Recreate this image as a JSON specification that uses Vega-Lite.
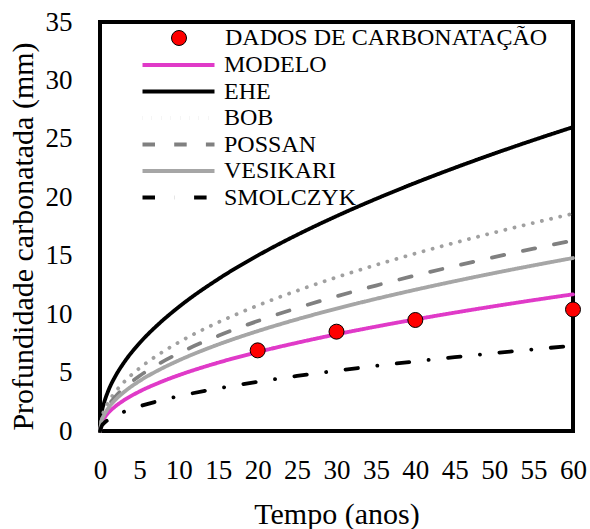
{
  "$schema": "https://vega.github.io/schema/vega-lite/v6.json",
  "width": 473,
  "height": 409,
  "autosize": {"type": "none"},
  "padding": {"left": 100, "top": 22, "right": 17, "bottom": 98},
  "background": "white",
  "config": {
    "font": "Liberation Serif",
    "view": {"stroke": "black", "strokeWidth": 4},
    "axis": {
      "grid": false, "domain": false, "ticks": false,
      "labelFont": "Liberation Serif", "labelFontSize": 27, "labelColor": "black",
      "titleFont": "Liberation Serif", "titleFontSize": 30, "titleFontWeight": "normal", "titleColor": "black"
    },
    "legend": {"labelFont": "Liberation Serif", "labelFontSize": 24, "labelColor": "black", "labelLimit": 0}
  },
  "datasets": {
    "curvas": [
      {"t": 0, "serie": "MODELO", "d": 0}, {"t": 0.25, "serie": "MODELO", "d": 0.755}, {"t": 0.5, "serie": "MODELO", "d": 1.068}, {"t": 1, "serie": "MODELO", "d": 1.51}, {"t": 2, "serie": "MODELO", "d": 2.135}, {"t": 3, "serie": "MODELO", "d": 2.615}, {"t": 5, "serie": "MODELO", "d": 3.377}, {"t": 7.5, "serie": "MODELO", "d": 4.135}, {"t": 10, "serie": "MODELO", "d": 4.775}, {"t": 15, "serie": "MODELO", "d": 5.848}, {"t": 20, "serie": "MODELO", "d": 6.753}, {"t": 25, "serie": "MODELO", "d": 7.55}, {"t": 30, "serie": "MODELO", "d": 8.271}, {"t": 35, "serie": "MODELO", "d": 8.933}, {"t": 40, "serie": "MODELO", "d": 9.55}, {"t": 45, "serie": "MODELO", "d": 10.129}, {"t": 50, "serie": "MODELO", "d": 10.677}, {"t": 55, "serie": "MODELO", "d": 11.198}, {"t": 60, "serie": "MODELO", "d": 11.696},
      {"t": 0, "serie": "EHE", "d": 0}, {"t": 0.25, "serie": "EHE", "d": 1.679}, {"t": 0.5, "serie": "EHE", "d": 2.374}, {"t": 1, "serie": "EHE", "d": 3.357}, {"t": 2, "serie": "EHE", "d": 4.748}, {"t": 3, "serie": "EHE", "d": 5.815}, {"t": 5, "serie": "EHE", "d": 7.507}, {"t": 7.5, "serie": "EHE", "d": 9.193}, {"t": 10, "serie": "EHE", "d": 10.616}, {"t": 15, "serie": "EHE", "d": 13.002}, {"t": 20, "serie": "EHE", "d": 15.013}, {"t": 25, "serie": "EHE", "d": 16.785}, {"t": 30, "serie": "EHE", "d": 18.387}, {"t": 35, "serie": "EHE", "d": 19.86}, {"t": 40, "serie": "EHE", "d": 21.232}, {"t": 45, "serie": "EHE", "d": 22.519}, {"t": 50, "serie": "EHE", "d": 23.738}, {"t": 55, "serie": "EHE", "d": 24.896}, {"t": 60, "serie": "EHE", "d": 26.003},
      {"t": 0, "serie": "BOB", "d": 0}, {"t": 0.25, "serie": "BOB", "d": 1.201}, {"t": 0.5, "serie": "BOB", "d": 1.698}, {"t": 1, "serie": "BOB", "d": 2.401}, {"t": 2, "serie": "BOB", "d": 3.395}, {"t": 3, "serie": "BOB", "d": 4.159}, {"t": 5, "serie": "BOB", "d": 5.369}, {"t": 7.5, "serie": "BOB", "d": 6.575}, {"t": 10, "serie": "BOB", "d": 7.593}, {"t": 15, "serie": "BOB", "d": 9.299}, {"t": 20, "serie": "BOB", "d": 10.738}, {"t": 25, "serie": "BOB", "d": 12.005}, {"t": 30, "serie": "BOB", "d": 13.151}, {"t": 35, "serie": "BOB", "d": 14.204}, {"t": 40, "serie": "BOB", "d": 15.185}, {"t": 45, "serie": "BOB", "d": 16.106}, {"t": 50, "serie": "BOB", "d": 16.978}, {"t": 55, "serie": "BOB", "d": 17.806}, {"t": 60, "serie": "BOB", "d": 18.598},
      {"t": 0, "serie": "POSSAN", "d": 0}, {"t": 0.25, "serie": "POSSAN", "d": 1.052}, {"t": 0.5, "serie": "POSSAN", "d": 1.488}, {"t": 1, "serie": "POSSAN", "d": 2.104}, {"t": 2, "serie": "POSSAN", "d": 2.976}, {"t": 3, "serie": "POSSAN", "d": 3.644}, {"t": 5, "serie": "POSSAN", "d": 4.705}, {"t": 7.5, "serie": "POSSAN", "d": 5.762}, {"t": 10, "serie": "POSSAN", "d": 6.653}, {"t": 15, "serie": "POSSAN", "d": 8.149}, {"t": 20, "serie": "POSSAN", "d": 9.409}, {"t": 25, "serie": "POSSAN", "d": 10.52}, {"t": 30, "serie": "POSSAN", "d": 11.524}, {"t": 35, "serie": "POSSAN", "d": 12.447}, {"t": 40, "serie": "POSSAN", "d": 13.307}, {"t": 45, "serie": "POSSAN", "d": 14.114}, {"t": 50, "serie": "POSSAN", "d": 14.878}, {"t": 55, "serie": "POSSAN", "d": 15.604}, {"t": 60, "serie": "POSSAN", "d": 16.297},
      {"t": 0, "serie": "VESIKARI", "d": 0}, {"t": 0.25, "serie": "VESIKARI", "d": 0.956}, {"t": 0.5, "serie": "VESIKARI", "d": 1.351}, {"t": 1, "serie": "VESIKARI", "d": 1.911}, {"t": 2, "serie": "VESIKARI", "d": 2.703}, {"t": 3, "serie": "VESIKARI", "d": 3.31}, {"t": 5, "serie": "VESIKARI", "d": 4.273}, {"t": 7.5, "serie": "VESIKARI", "d": 5.233}, {"t": 10, "serie": "VESIKARI", "d": 6.043}, {"t": 15, "serie": "VESIKARI", "d": 7.401}, {"t": 20, "serie": "VESIKARI", "d": 8.546}, {"t": 25, "serie": "VESIKARI", "d": 9.555}, {"t": 30, "serie": "VESIKARI", "d": 10.467}, {"t": 35, "serie": "VESIKARI", "d": 11.306}, {"t": 40, "serie": "VESIKARI", "d": 12.086}, {"t": 45, "serie": "VESIKARI", "d": 12.819}, {"t": 50, "serie": "VESIKARI", "d": 13.513}, {"t": 55, "serie": "VESIKARI", "d": 14.172}, {"t": 60, "serie": "VESIKARI", "d": 14.803},
      {"t": 0, "serie": "SMOLCZYK", "d": 0}, {"t": 0.25, "serie": "SMOLCZYK", "d": 0.471}, {"t": 0.5, "serie": "SMOLCZYK", "d": 0.666}, {"t": 1, "serie": "SMOLCZYK", "d": 0.942}, {"t": 2, "serie": "SMOLCZYK", "d": 1.332}, {"t": 3, "serie": "SMOLCZYK", "d": 1.632}, {"t": 5, "serie": "SMOLCZYK", "d": 2.106}, {"t": 7.5, "serie": "SMOLCZYK", "d": 2.58}, {"t": 10, "serie": "SMOLCZYK", "d": 2.979}, {"t": 15, "serie": "SMOLCZYK", "d": 3.648}, {"t": 20, "serie": "SMOLCZYK", "d": 4.213}, {"t": 25, "serie": "SMOLCZYK", "d": 4.71}, {"t": 30, "serie": "SMOLCZYK", "d": 5.16}, {"t": 35, "serie": "SMOLCZYK", "d": 5.573}, {"t": 40, "serie": "SMOLCZYK", "d": 5.958}, {"t": 45, "serie": "SMOLCZYK", "d": 6.319}, {"t": 50, "serie": "SMOLCZYK", "d": 6.661}, {"t": 55, "serie": "SMOLCZYK", "d": 6.986}, {"t": 60, "serie": "SMOLCZYK", "d": 7.297}
    ],
    "dados": [
      {"t": 20, "d": 6.9},
      {"t": 30, "d": 8.5},
      {"t": 40, "d": 9.5},
      {"t": 60, "d": 10.4}
    ]
  },
  "encoding": {
    "x": {
      "field": "t", "type": "quantitative",
      "scale": {"domain": [0, 60], "nice": false},
      "axis": {"values": [0, 5, 10, 15, 20, 25, 30, 35, 40, 45, 50, 55, 60], "labelFont": "Liberation Serif", "labelFontSize": 27, "labelPadding": 47, "labelBaseline": "alphabetic", "labelFlush": false, "labelOverlap": false, "title": "Tempo (anos)", "titleFont": "Liberation Serif", "titleFontSize": 30, "titleY": 92, "titleBaseline": "alphabetic"}
    },
    "y": {
      "field": "d", "type": "quantitative",
      "scale": {"domain": [0, 35], "nice": false},
      "axis": {"values": [0, 5, 10, 15, 20, 25, 30, 35], "labelFont": "Liberation Serif", "labelFontSize": 27, "labelPadding": 28, "labelBaseline": "middle", "labelFlush": false, "labelOverlap": false, "title": "Profundidade carbonatada (mm)", "titleFont": "Liberation Serif", "titleFontSize": 30, "titleAngle": -90, "titleX": -68, "titleY": 214, "titleAlign": "center", "titleBaseline": "alphabetic"}
    }
  },
  "layer": [
    {
      "data": {"name": "curvas"},
      "mark": {"type": "line", "strokeWidth": 3.8, "strokeCap": "round", "interpolate": "monotone"},
      "encoding": {
        "color": {
          "field": "serie", "type": "nominal",
          "scale": {"domain": ["MODELO", "EHE", "BOB", "POSSAN", "VESIKARI", "SMOLCZYK"], "range": ["#e03ac8", "#000000", "#a0a0a0", "#808080", "#a6a6a6", "#000000"]},
          "legend": {"orient": "none", "legendX": 66.5, "legendY": 31, "title": null, "padding": 0, "symbolType": "M-4.8,0H4.8", "symbolSize": 225, "symbolStrokeWidth": 3.8, "symbolFillColor": "transparent", "labelOffset": 33.5, "rowPadding": 2.5}
        },
        "strokeDash": {
          "field": "serie", "type": "nominal",
          "scale": {"domain": ["MODELO", "EHE", "BOB", "POSSAN", "VESIKARI", "SMOLCZYK"], "range": [[1, 0], [1, 0], [0.1, 9.3], [12.5, 19.2], [1, 0], [12.5, 19.5, 0.1, 19.5]]},
          "legend": {"orient": "none", "legendX": 66.5, "legendY": 31, "title": null, "padding": 0, "symbolType": "M-4.8,0H4.8", "symbolSize": 225, "symbolStrokeWidth": 3.8, "symbolFillColor": "transparent", "labelOffset": 33.5, "rowPadding": 2.5}
        }
      }
    },
    {
      "data": {"name": "dados"},
      "mark": {"type": "point", "shape": "circle", "filled": true, "size": 225, "stroke": "black", "strokeWidth": 1, "opacity": 1},
      "encoding": {
        "fill": {
          "datum": "DADOS DE CARBONATAÇÃO",
          "scale": {"range": ["#ff0000"]},
          "legend": {"orient": "none", "legendX": 67, "legendY": 4, "title": null, "padding": 0, "symbolType": "circle", "symbolSize": 225, "symbolStrokeColor": "black", "symbolStrokeWidth": 1, "symbolOpacity": 1, "labelOffset": 34}
        }
      }
    }
  ]
}
